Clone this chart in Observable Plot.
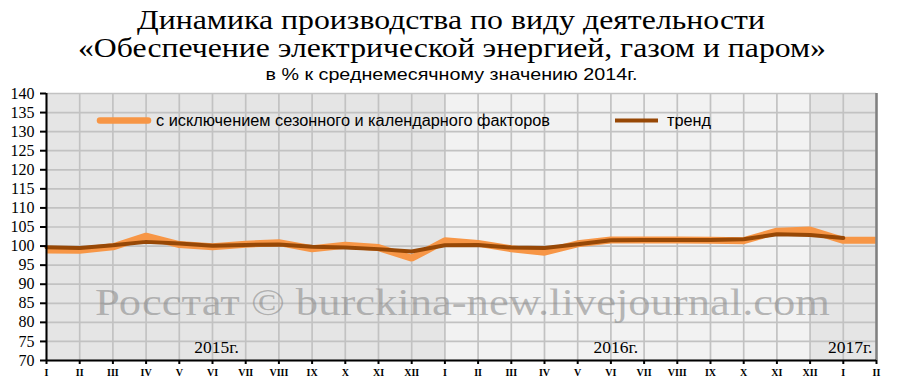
<!DOCTYPE html>
<html><head><meta charset="utf-8">
<script src="https://cdn.jsdelivr.net/npm/d3@7"></script>
<script src="https://cdn.jsdelivr.net/npm/@observablehq/plot@0.6"></script>
<style>
body{margin:0;background:#fff;width:900px;height:391px;overflow:hidden;position:relative}
#title{position:absolute;left:0;top:0;width:900px;height:85px}
#chart{position:absolute;left:0;top:85px}
</style></head>
<body>
<div id="title"></div>
<div id="chart"></div>
<script>
const titleLines = ["Динамика производства по виду деятельности", "«Обеспечение электрической энергией, газом и паром»"];
const subtitle = "в % к среднемесячному значению 2014г.";
const months = ["I","II","III","IV","V","VI","VII","VIII","IX","X","XI","XII",
                "I","II","III","IV","V","VI","VII","VIII","IX","X","XI","XII",
                "I","II"];
const years = [2015,2015,2015,2015,2015,2015,2015,2015,2015,2015,2015,2015,
               2016,2016,2016,2016,2016,2016,2016,2016,2016,2016,2016,2016,
               2017,2017];
const seasonal = [99.0, 98.9, 99.8, 102.6, 100.4, 99.8, 100.5, 100.9, 99.3, 100.2, 99.6, 96.8,
                  101.4, 100.7, 99.3, 98.4, 100.6, 101.6, 101.6, 101.6, 101.5, 101.4, 103.9, 104.2,
                  101.5, 101.5];
const trend = [99.7, 99.5, 100.2, 101.1, 100.7, 100.1, 100.3, 100.4, 99.8, 99.6, 99.2, 98.6,
               100.2, 100.3, 99.6, 99.5, 100.5, 101.5, 101.6, 101.6, 101.6, 101.8, 103.1, 102.9,
               102.1, null];
const seriesNames = ["с исключением сезонного и календарного факторов", "тренд"];
const yTicks = [70,75,80,85,90,95,100,105,110,115,120,125,130,135,140];
const yearLabels = ["2015г.", "2016г.", "2017г."];
const watermark = "Росстат © burckina-new.livejournal.com";

// title block (above the chart SVG)
const tsvg = d3.select("#title").append("svg").attr("width", 900).attr("height", 85);
tsvg.append("text").attr("x", 451).attr("y", 29).attr("text-anchor", "middle")
  .attr("font-family", "Liberation Serif, serif").attr("font-size", 27)
  .attr("textLength", 628).attr("lengthAdjust", "spacingAndGlyphs").text(titleLines[0]);
tsvg.append("text").attr("x", 452).attr("y", 57).attr("text-anchor", "middle")
  .attr("font-family", "Liberation Serif, serif").attr("font-size", 27)
  .attr("textLength", 748).attr("lengthAdjust", "spacingAndGlyphs").text(titleLines[1]);
tsvg.append("text").attr("x", 451.5).attr("y", 80).attr("text-anchor", "middle")
  .attr("font-family", "Liberation Sans, sans-serif").attr("font-size", 16.5)
  .attr("textLength", 372).attr("lengthAdjust", "spacingAndGlyphs").text(subtitle);

const idx = d3.range(months.length);
const seasData = idx.map(i => ({i, v: seasonal[i]}));
const trendData = idx.filter(i => trend[i] != null).map(i => ({i, v: trend[i]}));
const uniqYears = Array.from(new Set(years));
const bands = [
  {year: uniqYears[0], x1: years.indexOf(uniqYears[0]), x2: years.indexOf(uniqYears[1])},
  {year: uniqYears[1], x1: years.indexOf(uniqYears[1]), x2: years.lastIndexOf(uniqYears[1])},
  {year: uniqYears[2], x1: years.lastIndexOf(uniqYears[1]), x2: years.length - 1}
];
const yMin = yTicks[0], yMax = yTicks[yTicks.length - 1];
const colors = {seas: "#f79646", trend: "#974806"};

function legend(index, scales, values, dims) {
  const g = d3.create("svg:g").attr("text-anchor", "start");
  const y = 35.5;
  g.append("line").attr("x1", 100).attr("x2", 148).attr("y1", y).attr("y2", y)
    .attr("stroke", colors.seas).attr("stroke-width", 6.5).attr("stroke-linecap", "round");
  g.append("text").attr("x", 156).attr("y", y).attr("dy", "0.35em").text(seriesNames[0])
    .attr("text-anchor", "start")
    .attr("font-family", "Liberation Sans, sans-serif").attr("font-size", 16)
    .attr("textLength", 394).attr("lengthAdjust", "spacingAndGlyphs").attr("fill", "#000");
  g.append("line").attr("x1", 615).attr("x2", 658).attr("y1", y).attr("y2", y)
    .attr("stroke", colors.trend).attr("stroke-width", 4);
  g.append("text").attr("x", 667).attr("y", y).attr("dy", "0.35em").text(seriesNames[1])
    .attr("text-anchor", "start")
    .attr("font-family", "Liberation Sans, sans-serif").attr("font-size", 16)
    .attr("textLength", 44).attr("lengthAdjust", "spacingAndGlyphs").attr("fill", "#000");
  return g.node();
}

const chart = Plot.plot({
  width: 900, height: 306,
  marginTop: 8, marginBottom: 31, marginLeft: 46, marginRight: 24,
  style: {fontFamily: "Liberation Serif, serif", fontSize: "16px", color: "#000", background: "transparent", overflow: "visible"},
  x: {type: "linear", domain: [0, months.length - 1]},
  y: {domain: [yMin, yMax]},
  marks: [
    Plot.rect(bands, {x1: "x1", x2: "x2", y1: () => yMin, y2: () => yMax,
      fill: {value: d => d.year % 2 ? "#e5e5e5" : "#f2f2f2", scale: null}}),
    Plot.gridX({ticks: idx, stroke: "#c2c2c2", strokeOpacity: 1, strokeWidth: 1.7}),
    Plot.gridY({ticks: yTicks, stroke: "#c2c2c2", strokeOpacity: 1, strokeWidth: 1.7}),
    Plot.text([watermark], {frameAnchor: "middle", dy: 75.5, dx: 1, text: d => d, className: "wm",
      fontSize: 38, fill: "#8c8c8c", fillOpacity: 0.6, fontFamily: "Liberation Serif, serif"}),
    legend,
    Plot.line(seasData, {x: "i", y: "v", stroke: colors.seas, strokeWidth: 7, strokeLinejoin: "miter", clip: true}),
    Plot.line(trendData, {x: "i", y: "v", stroke: colors.trend, strokeWidth: 4, strokeLinejoin: "round"}),
    Plot.text([yearLabels[0]], {x: () => years.indexOf(2015) + 5, y: () => yMin, dy: -13, dx: 4, text: d => d, fontSize: 17.5}),
    Plot.text([yearLabels[1]], {x: () => years.indexOf(2016) + 5, y: () => yMin, dy: -13, dx: 5, text: d => d, fontSize: 17.5}),
    Plot.text([yearLabels[2]], {x: () => years.length - 1, y: () => yMin, dy: -13, dx: -4, textAnchor: "end", text: d => d, fontSize: 17.5}),
    Plot.ruleX([months.length - 1], {stroke: "#808080", strokeWidth: 2.5}),
    Plot.ruleX([0], {stroke: "#000", strokeWidth: 2}),
    Plot.ruleY([yMin], {stroke: "#000", strokeWidth: 2}),
    Plot.axisY({ticks: yTicks, tickSize: 6, tickPadding: 6, strokeWidth: 2, fontSize: 16, label: null, tickFormat: d => d}),
    Plot.axisX({ticks: idx, tickSize: 4, tickPadding: 4, strokeWidth: 2, fontSize: 10, fontWeight: "bold", label: null, tickFormat: i => months[i]})
  ]
});
document.getElementById("chart").appendChild(chart);
d3.select(chart).selectAll(".wm text").attr("textLength", 735).attr("lengthAdjust", "spacingAndGlyphs");
</script>
</body></html>
